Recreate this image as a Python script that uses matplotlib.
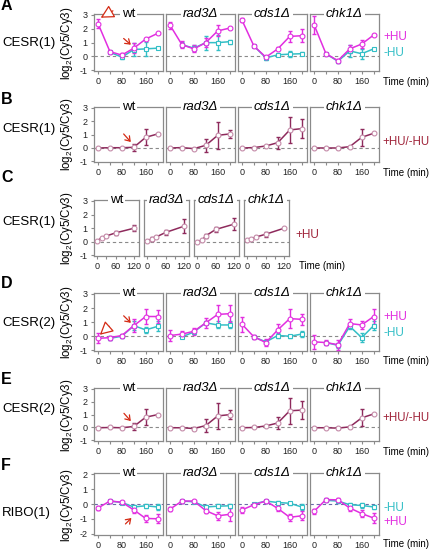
import numpy as np
import matplotlib
matplotlib.use('Agg')
import matplotlib.pyplot as plt

plt.rcParams['font.family'] = ['Liberation Sans', 'DejaVu Sans']
plt.rcParams['mathtext.fontset'] = 'custom'
plt.rcParams['mathtext.rm'] = 'Liberation Sans'
plt.rcParams['mathtext.it'] = 'Liberation Sans:italic'

W, H = 432, 549

# time points (min)
times = [0, 40, 80, 120, 160, 200]
times_minus = [40, 80, 120, 160, 200]
times_c = [0, 15, 30, 60, 120]
strains = ['wt', 'rad3Δ', 'cds1Δ', 'chk1Δ']

# A: CESR(1), +HU and -HU
A_plus = [[2.38, 0.35, 0.1, 0.6, 1.26, 1.67],
          [2.26, 0.85, 0.55, 1.0, 1.85, 2.05],
          [2.62, 0.75, -0.05, 0.55, 1.45, 1.5],
          [2.3, 0.2, -0.3, 0.55, 0.9, 1.55]]
A_plus_err = [[0.3, 0.05, 0.15, 0.35, 0.05, 0.05],
              [0.25, 0.25, 0.25, 0.35, 0.4, 0.1],
              [0.15, 0.05, 0.1, 0.1, 0.4, 0.45],
              [0.65, 0.05, 0.1, 0.3, 0.3, 0.05]]
A_minus = [[0.3, -0.05, 0.5, 0.55, 0.6],
           [0.85, 0.6, 1.0, 1.0, 1.07],
           [0.75, -0.1, 0.12, 0.17, 0.2],
           [0.2, -0.35, 0.4, 0.2, 0.55]]
A_minus_err = [[0.05, 0.1, 0.5, 0.5, 0.05],
               [0.2, 0.2, 0.5, 0.55, 0.15],
               [0.05, 0.15, 0.1, 0.2, 0.1],
               [0.05, 0.1, 0.45, 0.35, 0.05]]

# B: CESR(1), +HU/-HU
B_ratio = [[0, 0.02, 0.02, 0.05, 0.8, 1.05],
           [0, 0.03, -0.05, 0.2, 0.95, 1.05],
           [0, 0.03, 0.15, 0.4, 1.35, 1.45],
           [0, 0, 0, 0.1, 0.8, 1.1]]
B_err = [[0, 0, 0, 0.28, 0.6, 0],
         [0, 0, 0.05, 0.5, 1.0, 0.3],
         [0, 0, 0, 0.45, 1.0, 0.7],
         [0, 0, 0.05, 0.08, 0.65, 0]]

# C: CESR(1), +HU short time course
C_ratio = [[0.02, 0.3, 0.42, 0.65, 1.0],
           [0.05, 0.2, 0.35, 0.68, 1.15],
           [0.0, 0.1, 0.45, 0.9, 1.3],
           [0.1, 0.22, 0.35, 0.55, 1.0]]
C_err = [[0, 0.05, 0.05, 0.15, 0.2],
         [0, 0.12, 0.05, 0.15, 0.5],
         [0, 0, 0.15, 0.2, 0.45],
         [0, 0, 0.05, 0.2, 0]]

# D: CESR(2), +HU and -HU
D_plus = [[-0.15, -0.1, 0.05, 0.75, 1.4, 1.4],
          [0.05, 0.15, 0.35, 0.95, 1.55, 1.6],
          [0.85, -0.05, -0.45, 0.45, 1.25, 1.2],
          [-0.4, -0.45, -0.6, 0.9, 0.8, 1.4]]
D_plus_err = [[0.35, 0.15, 0.12, 0.45, 0.55, 0.45],
              [0.4, 0.2, 0.25, 0.35, 0.7, 0.6],
              [0.55, 0.15, 0.25, 0.4, 0.7, 0.4],
              [0.5, 0.2, 0.35, 0.3, 0.3, 0.5]]
D_minus = [[-0.15, 0.0, 0.75, 0.45, 0.7],
           [-0.05, 0.3, 0.95, 0.8, 0.8],
           [-0.05, -0.4, 0.05, 0.0, 0.15],
           [-0.45, -0.65, 0.7, -0.1, 0.75]]
D_minus_err = [[0.1, 0.1, 0.3, 0.2, 0.35],
               [0.1, 0.1, 0.1, 0.25, 0.25],
               [0.1, 0.15, 0.15, 0.1, 0.2],
               [0.1, 0.2, 0.2, 0.3, 0.3]]

# E: CESR(2), +HU/-HU
E_ratio = [[-0.02, 0, -0.02, 0.08, 0.8, 1.0],
           [-0.02, -0.02, -0.08, 0.15, 0.9, 1.0],
           [-0.02, 0.0, 0.12, 0.35, 1.3, 1.35],
           [-0.02, -0.02, -0.05, 0.05, 0.75, 1.05]]
E_err = [[0, 0, 0, 0.25, 0.6, 0],
         [0, 0, 0.1, 0.5, 1.0, 0.35],
         [0, 0, 0, 0.45, 1.0, 0.7],
         [0, 0, 0.08, 0.1, 0.65, 0]]

# F: RIBO(1), +HU and -HU
F_plus = [[-0.27, 0.2, 0.12, -0.4, -0.98, -1.0],
          [-0.35, 0.2, 0.2, -0.45, -0.8, -0.7],
          [-0.4, -0.05, 0.2, -0.3, -0.9, -0.8],
          [-0.5, 0.3, 0.28, -0.27, -0.65, -0.95]]
F_plus_err = [[0.15, 0.1, 0.1, 0.2, 0.25, 0.3],
              [0.12, 0.1, 0.1, 0.15, 0.25, 0.45],
              [0.2, 0.1, 0.1, 0.2, 0.25, 0.3],
              [0.15, 0.1, 0.1, 0.2, 0.25, 0.35]]
F_minus = [[0.2, 0.1, -0.2, -0.12, -0.2],
           [0.2, 0.15, -0.2, -0.15, -0.12],
           [0.0, 0.2, 0.1, 0.05, -0.2],
           [0.25, 0.2, -0.05, -0.1, -0.2]]
F_minus_err = [[0.1, 0.1, 0.1, 0.15, 0.2],
               [0.1, 0.1, 0.1, 0.12, 0.15],
               [0.1, 0.1, 0.1, 0.1, 0.2],
               [0.1, 0.1, 0.1, 0.2, 0.15]]

MAG = '#e22ee0'
CYA = '#33bfc6'
MAR = '#8e2a5c'
RED = '#d42a14'
GRAY = '#8a8a8a'
RATIO_TXT = '#a0243a'

fig = plt.figure(figsize=(W / 100, H / 100), dpi=100)


def add_px_axes(x0, y0, x1, y1):
    return fig.add_axes([x0 / W, 1 - y1 / H, (x1 - x0) / W, (y1 - y0) / H])


def ftext(x, y, s, **kw):
    fig.text(x / W, 1 - y / H, s, **kw)


def series(ax, t, y, e, color, marker, mec=None):
    ax.plot(t, y, color=color, lw=1.1, marker=marker, ms=3.5, mfc='white',
            mec=mec or color, mew=0.8, zorder=4, clip_on=False)
    t, y, e = np.array(t), np.array(y), np.array(e)
    m = e > 0
    ax.errorbar(t[m], y[m], yerr=e[m], fmt='none', ecolor=color,
                elinewidth=1.0, capsize=1.6, capthick=1.0, zorder=3, clip_on=False)


def make_row(top, bottom, lefts, width, xlim, xticks, xlabels, ylim, yticks, zero_color=GRAY):
    axes = []
    for i, x0 in enumerate(lefts):
        ax = add_px_axes(x0, top, x0 + width, bottom)
        ax.set_xlim(*xlim)
        ax.set_ylim(*ylim)
        for sp in ax.spines.values():
            sp.set_color(GRAY)
            sp.set_linewidth(0.9)
        ax.set_xticks(xticks)
        ax.set_xticklabels(xlabels)
        ax.tick_params(direction='out', length=2.5, width=0.8, color=GRAY,
                       labelsize=6.5, pad=2, labelcolor='#222222')
        if i == 0:
            ax.set_yticks(yticks)
            ax.set_yticklabels([str(v) for v in yticks])
        else:
            ax.set_yticks([])
        ax.axhline(0, color=zero_color, ls=(0, (3, 2.5)), lw=0.8, zorder=1)
        name = strains[i]
        ax.text(0.5, 1.0, name, transform=ax.transAxes, ha='center', va='center',
                fontsize=9.5, style='normal' if i == 0 else 'italic', zorder=6,
                bbox=dict(fc='white', ec='none', pad=1.2), clip_on=False)
        axes.append(ax)
    return axes


lefts4 = [94, 166, 238, 310]
width4 = 69
lefts_c = [94, 144, 194, 244]
width_c = 45
xl = (-13.5, 218)
xt = [0, 40, 80, 120, 160, 200]
xtl = ['0', '', '80', '', '160', '']
yt = [-1, 0, 1, 2, 3]
yl = (-1.05, 3.07)

ylab = r'log$_\mathregular{2}$(Cy5/Cy3)'


def row_labels(letter, ly, name, ny, ycenter, time_y, time_x=383):
    ftext(1, ly, letter, fontsize=11.5, fontweight='bold', va='center', ha='left')
    ftext(2, ny, name, fontsize=9.5, va='center', ha='left')
    ftext(67, ycenter, ylab, fontsize=8.3, rotation=90, va='center', ha='center')
    ftext(time_x, time_y, 'Time (min)', fontsize=7, va='center', ha='left')


def arrow(ax, tip, tail, open_head=False):
    if open_head:
        props = dict(arrowstyle='-|>,head_length=0.8,head_width=0.42', fc='white',
                     ec=RED, lw=0.9, shrinkA=0, shrinkB=0)
    else:
        props = dict(arrowstyle='->,head_length=0.32,head_width=0.22', color=RED,
                     lw=0.9, shrinkA=0, shrinkB=0)
    ax.annotate('', xy=tip, xytext=tail, arrowprops=props, annotation_clip=False, zorder=7)


# ---- row A ----
axA = make_row(14, 71, lefts4, width4, xl, xt, xtl, yl, yt)
for i, ax in enumerate(axA):
    series(ax, times_minus, A_minus[i], A_minus_err[i], CYA, 's')
    series(ax, times, A_plus[i], A_plus_err[i], MAG, 'o')
arrow(axA[0], (9, 2.8), (50, 3.3), open_head=True)
arrow(axA[0], (110, 0.85), (86, 1.3))
row_labels('A', 6, 'CESR(1)', 43, 43, 82)
ftext(383, 37, '+HU', color=MAG, fontsize=8.5, va='center')
ftext(383, 53, '-HU', color=CYA, fontsize=8.5, va='center')

# ---- row B ----
axB = make_row(107, 162, lefts4, width4, xl, xt, xtl, yl, yt)
for i, ax in enumerate(axB):
    series(ax, times, B_ratio[i], B_err[i], MAR, 'o', mec='#c48aa8')
arrow(axB[0], (110, 0.45), (86, 1.05))
row_labels('B', 99, 'CESR(1)', 129, 134, 173)
ftext(382, 142, '+HU/-HU', color=RATIO_TXT, fontsize=8.3, va='center')

# ---- row C ----
axC = make_row(200, 256, lefts_c, width_c, (-9, 135), [0, 30, 60, 90, 120],
               ['0', '', '60', '', '120'], yl, yt)
for i, ax in enumerate(axC):
    series(ax, times_c, C_ratio[i], C_err[i], MAR, 'o', mec='#c48aa8')
row_labels('C', 177, 'CESR(1)', 222, 228, 266, time_x=299)
ftext(295, 235, '+HU', color=RATIO_TXT, fontsize=8.5, va='center')

# ---- row D ----
axD = make_row(293, 351, lefts4, width4, xl, xt, xtl, yl, yt)
for i, ax in enumerate(axD):
    series(ax, times_minus, D_minus[i], D_minus_err[i], CYA, 's')
    series(ax, times, D_plus[i], D_plus_err[i], MAG, 'o')
arrow(axD[0], (6, 0.1), (38, 0.7), open_head=True)
arrow(axD[0], (110, 0.95), (86, 1.45))
row_labels('D', 284, 'CESR(2)', 323, 322, 361)
ftext(383, 317, '+HU', color=MAG, fontsize=8.5, va='center')
ftext(383, 333, '-HU', color=CYA, fontsize=8.5, va='center')

# ---- row E ----
axE = make_row(388, 441, lefts4, width4, xl, xt, xtl, yl, yt)
for i, ax in enumerate(axE):
    series(ax, times, E_ratio[i], E_err[i], MAR, 'o', mec='#c48aa8')
arrow(axE[0], (110, 0.5), (87, 1.1))
row_labels('E', 379, 'CESR(2)', 409, 415, 452)
ftext(382, 418, '+HU/-HU', color=RATIO_TXT, fontsize=8.3, va='center')

# ---- row F ----
axF = make_row(473, 535, lefts4, width4, xl, xt, xtl, (-2.1, 2.1), [-2, -1, 0, 1, 2],
               zero_color='#6a6aa8')
for i, ax in enumerate(axF):
    series(ax, times_minus, F_minus[i], F_minus_err[i], CYA, 's')
    series(ax, times, F_plus[i], F_plus_err[i], MAG, 'o')
arrow(axF[0], (112, -0.95), (92, -1.35))
row_labels('F', 465, 'RIBO(1)', 513, 505, 544)
ftext(383, 508, '-HU', color=CYA, fontsize=8.5, va='center')
ftext(383, 522, '+HU', color=MAG, fontsize=8.5, va='center')

fig.savefig('out.png', dpi=100)
